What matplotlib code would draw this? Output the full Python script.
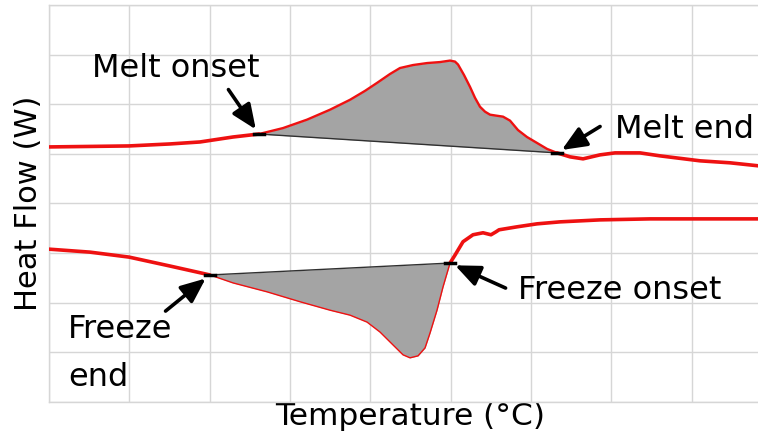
import matplotlib
matplotlib.use('Agg')
import matplotlib.pyplot as plt
import numpy as np

plt.rcParams['font.family'] = ['DejaVu Sans']

# Heating (melt) run
melt_temp = [0.0, 5.1, 9.96, 15.06, 18.8, 22.9, 26.14, 29.13, 32.12, 34.98, 37.47, 39.34,
             40.83, 42.45, 43.69, 45.31, 47.06, 48.67, 49.92, 50.54, 50.92, 51.66, 52.41,
             53.03, 53.65, 54.28, 54.90, 55.7, 56.52, 57.39, 58.38, 59.50, 60.75, 62.0,
             63.24, 64.86, 66.48, 68.59, 70.46, 73.57, 76.06, 81.04, 84.77, 88.26]
melt_flow = [5.14, 5.15, 5.16, 5.20, 5.24, 5.34, 5.40, 5.52, 5.69, 5.89, 6.09, 6.27,
             6.43, 6.61, 6.73, 6.79, 6.83, 6.85, 6.88, 6.86, 6.80, 6.59, 6.35,
             6.13, 5.95, 5.85, 5.79, 5.77, 5.75, 5.67, 5.48, 5.34, 5.22, 5.10,
             5.02, 4.94, 4.90, 4.98, 5.02, 5.02, 4.96, 4.86, 4.82, 4.76]
melt_onset_idx = 6
melt_end_idx = 34

# Cooling (freeze) run
freeze_temp = [0.0, 5.1, 9.96, 15.06, 20.04, 22.9, 27.14, 31.25, 34.98, 37.47, 39.59,
               41.20, 42.82, 44.07, 44.94, 45.94, 46.81, 47.43, 48.30, 49.05, 49.92,
               50.54, 51.54, 52.78, 54.03, 55.02, 55.65, 56.02, 58.26, 60.75, 63.61,
               68.59, 74.82, 88.26]
freeze_flow = [3.08, 3.02, 2.92, 2.74, 2.56, 2.40, 2.22, 2.02, 1.85, 1.75, 1.61,
               1.41, 1.15, 0.95, 0.89, 0.93, 1.09, 1.39, 1.85, 2.32, 2.80,
               2.96, 3.23, 3.37, 3.41, 3.37, 3.43, 3.47, 3.53, 3.59, 3.63,
               3.67, 3.69, 3.69]
freeze_end_idx = 4
freeze_onset_idx = 20

W, H = 758, 436
fig = plt.figure(figsize=(W / 100, H / 100), dpi=100)
ax = fig.add_axes([49 / W, 34 / H, 723 / W, 397 / H])
ax.set_xlim(0, 90)
ax.set_ylim(0, 8)
ax.set_xticks(np.arange(0, 91, 10))
ax.set_yticks(np.arange(0, 9, 1))
ax.grid(True, color='#d6d6d6', lw=1)
ax.set_axisbelow(True)
ax.tick_params(length=0, labelbottom=False, labelleft=False)
for s in ax.spines.values():
    s.set_color('#d6d6d6')
    s.set_linewidth(1)

red = '#ee1111'


def draw_run(T, Hf, i0, i1, inner_lw):
    T = np.asarray(T)
    Hf = np.asarray(Hf)
    a, b = min(i0, i1), max(i0, i1)
    segT, segH = T[a:b + 1], Hf[a:b + 1]
    base = np.interp(segT, [T[a], T[b]], [Hf[a], Hf[b]])
    ax.fill_between(segT, segH, base, color='#a4a4a4', lw=0, zorder=2)
    ax.plot([T[a], T[b]], [Hf[a], Hf[b]], color='#303030', lw=1.0, zorder=3)
    ax.plot(T[:a + 1], Hf[:a + 1], color=red, lw=2.6, solid_capstyle='round',
            solid_joinstyle='round', zorder=4)
    ax.plot(T[b:], Hf[b:], color=red, lw=2.6, solid_capstyle='round',
            solid_joinstyle='round', zorder=4)
    ax.plot(segT, segH, color=red, lw=inner_lw, solid_joinstyle='round', zorder=4)
    for k in (a, b):
        ax.plot([T[k] - 0.6, T[k] + 0.6], [Hf[k], Hf[k]], color='black', lw=2.5, zorder=5)


draw_run(melt_temp, melt_flow, melt_onset_idx, melt_end_idx, 1.7)
draw_run(freeze_temp, freeze_flow, freeze_end_idx, freeze_onset_idx, 1.0)

fs = 23
arrow = dict(arrowstyle='-|>,head_length=0.75,head_width=0.32', lw=2.6, color='black',
             mutation_scale=20, shrinkA=0, shrinkB=4)


def arrow_to(x, y, dx, dy):
    ax.annotate('', xy=(x, y), xytext=(dx, dy), textcoords='offset points',
                arrowprops=arrow, zorder=6)


arrow_to(melt_temp[melt_onset_idx], melt_flow[melt_onset_idx], -22, 32)
arrow_to(melt_temp[melt_end_idx], melt_flow[melt_end_idx], 31, 19)
arrow_to(freeze_temp[freeze_end_idx], freeze_flow[freeze_end_idx], -32, -26)
arrow_to(freeze_temp[freeze_onset_idx], freeze_flow[freeze_onset_idx], 40, -18)

ax.text(15.8, 6.55, 'Melt onset', fontsize=fs, ha='center', va='baseline')
ax.text(79.05, 5.32, 'Melt end', fontsize=fs, ha='center', va='baseline')
ax.text(71.1, 2.08, 'Freeze onset', fontsize=fs, ha='center', va='baseline')
ax.text(2.37, 1.28, 'Freeze', fontsize=fs, ha='left', va='baseline')
ax.text(2.37, 0.32, 'end', fontsize=fs, ha='left', va='baseline')

ax.set_xlabel('Temperature (°C)', fontsize=22.5, labelpad=0)
ax.set_ylabel('Heat Flow (W)', fontsize=22, labelpad=4)

fig.savefig('out.png', dpi=100)
